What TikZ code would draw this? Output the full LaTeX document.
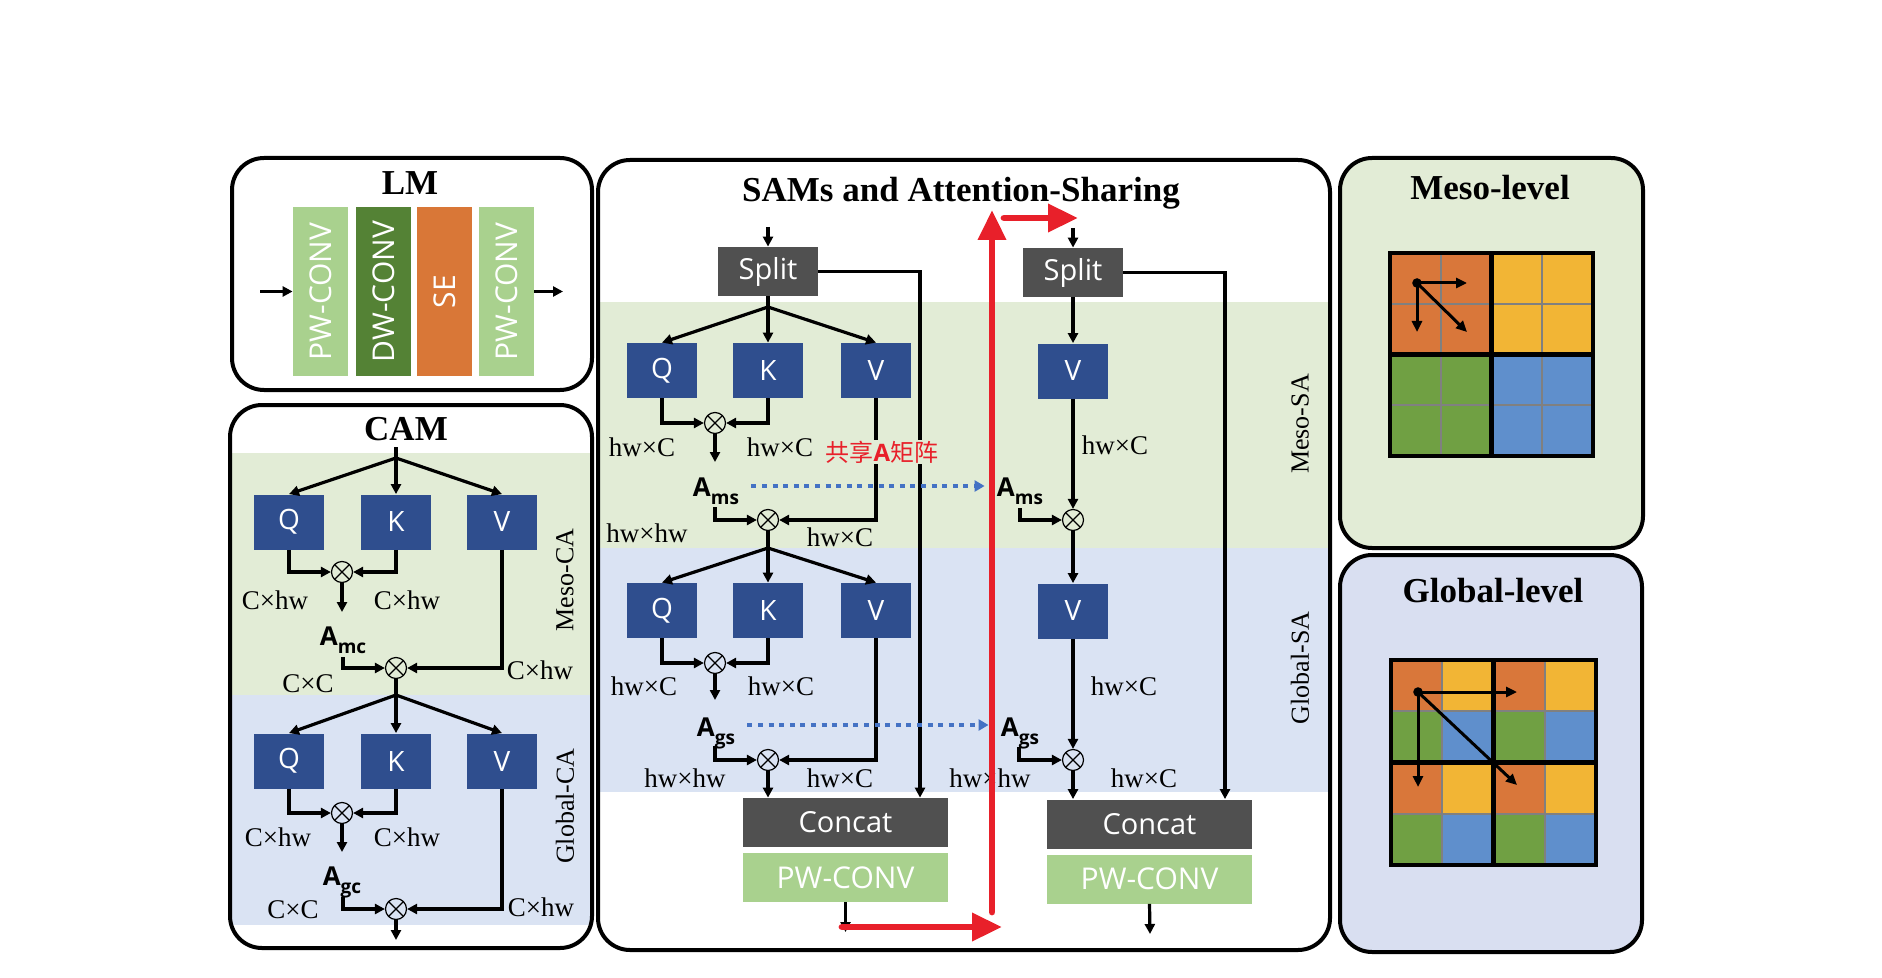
\documentclass[tikz,border=0pt]{standalone}
\usepackage{fontspec}
\setmainfont{Liberation Serif}
\setsansfont{Open Sans}
\newfontfamily\cjk{Noto Sans CJK SC}
\usetikzlibrary{arrows.meta,calc}
\definecolor{qblue}{HTML}{2F4E8E}
\definecolor{dgrey}{HTML}{505050}
\definecolor{lgreen}{HTML}{A9D18E}
\definecolor{dgreen}{HTML}{548235}
\definecolor{seorange}{HTML}{D97737}
\definecolor{bandgreen}{HTML}{E2ECD6}
\definecolor{bandblue}{HTML}{DAE3F3}
\definecolor{glbox}{HTML}{D9DFF1}
\definecolor{gorange}{HTML}{D9773A}
\definecolor{gyellow}{HTML}{F2B535}
\definecolor{ggreen}{HTML}{70A043}
\definecolor{gblue}{HTML}{5F8FCC}
\definecolor{rd}{HTML}{E8202A}
\definecolor{dotblue}{HTML}{4472C4}
\newcommand\amsub[1]{\raisebox{-4pt}{\fontsize{9.5}{10}\selectfont #1}}
\tikzset{
 ln/.style={line width=1.6pt},
 arr/.style={line width=1.6pt, -{Triangle[length=5pt,width=5pt]}},
 blk/.style={rectangle, inner sep=0pt, text=white, font=\sffamily\fontsize{14}{14}\selectfont},
 qkv/.style={blk, fill=qblue, minimum width=35pt, minimum height=27.5pt},
 gbox/.style={blk, fill=dgrey, font=\sffamily\fontsize{14.5}{15}\selectfont},
 splitbox/.style={gbox, minimum width=50pt, minimum height=24.5pt},
 catbox/.style={gbox, minimum width=102.5pt, minimum height=24.5pt},
 pwbox/.style={blk, fill=lgreen, minimum width=102.5pt, minimum height=24.5pt, font=\sffamily\fontsize{15}{15}\selectfont},
 lmb/.style={blk, minimum width=27.5pt, minimum height=84.5pt, font=\sffamily\fontsize{15}{15}\selectfont},
 ox/.style={circle, draw, line width=0.6pt, minimum size=10.5pt, inner sep=0pt,
   path picture={\draw[line width=0.6pt] (path picture bounding box.north west) -- (path picture bounding box.south east) (path picture bounding box.north east) -- (path picture bounding box.south west);}},
 lab/.style={inner sep=0pt, font=\fontsize{13.5}{14}\selectfont},
 side/.style={inner sep=0pt, rotate=90, font=\fontsize{13}{14}\selectfont},
 ttl/.style={inner sep=0pt, font=\bfseries\fontsize{17.5}{18}\selectfont},
 amat/.style={inner sep=0pt, font=\sffamily\bfseries\fontsize{13}{14}\selectfont},
 dotarr/.style={draw=dotblue, line width=2pt, dash pattern=on 2.5pt off 2.8pt, -{Triangle[length=5pt,width=5.5pt]}, shorten <=6pt, shorten >=6pt},
 panel/.style={line width=2pt, rounded corners=16pt},
 redarr/.style={draw=rd, line width=3.4pt, line cap=round, -{Triangle[length=15pt,width=13.5pt]}},
 garr/.style={line width=1.5pt, -{Triangle[length=5.5pt,width=5pt]}},
 thingrid/.style={draw=black!50, line width=1pt},
 thickgrid/.style={draw=black, line width=2.2pt},
}
\begin{document}
\begin{tikzpicture}[x=0.5pt,y=-0.5pt]
\useasboundingbox (0,0) rectangle (1882,978);

% ---------- side panels ----------
\filldraw[panel, fill=bandgreen] (1340,158) rectangle (1643,548);
\filldraw[panel, fill=glbox] (1340,555) rectangle (1642,952);

% ---------- bands ----------
\begin{scope}
\clip[rounded corners=16pt] (230,405) rectangle (592,948);
\fill[bandgreen] (230,453) rectangle (592,695);
\fill[bandblue] (230,695) rectangle (592,925);
\end{scope}
\begin{scope}
\clip[rounded corners=16pt] (598,160) rectangle (1330,950);
\fill[bandgreen] (598,302) rectangle (1330,548);
\fill[bandblue] (598,548) rectangle (1330,792);
\end{scope}
\draw[panel] (232,158) rectangle (592,390);
\draw[panel] (230,405) rectangle (592,948);
\draw[panel] (598,160) rectangle (1330,950);

% ---------- titles ----------
\node[ttl, anchor=base] (lmT) at (410,195) {LM};
\node[ttl, anchor=base] (camT) at (406,440) {CAM};
\node[ttl, anchor=base] (samT) at (961,202) {SAMs and Attention-Sharing};
\node[ttl, anchor=base] (mesoT) at (1490,200) {Meso-level};
\node[ttl, anchor=base] (globT) at (1493,602) {Global-level};

% ---------- LM ----------
\node[lmb, fill=lgreen] (lm1) at (320.5,291.5) {\rotatebox{90}{PW-CONV}};
\node[lmb, fill=dgreen] (lm2) at (383.5,291.5) {\rotatebox{90}{DW-CONV}};
\node[lmb, fill=seorange] (lm3) at (444.5,291.5) {\rotatebox{90}{SE}};
\node[lmb, fill=lgreen] (lm4) at (506.5,291.5) {\rotatebox{90}{PW-CONV}};
\coordinate (lmin) at (260,291.5);
\coordinate (lmout) at (563,291.5);
\draw[arr] (lmin) -- (lm1.west);
\draw[arr] (lm4.east) -- (lmout);

% ---------- CAM ----------
\coordinate (ct1) at (396,447);
\coordinate (cb1) at (396,458);
\node[qkv] (cq1) at (289,522) {Q};
\node[qkv] (ck1) at (396,522) {K};
\node[qkv] (cv1) at (502,522) {V};
\draw[ln] (ct1) -- (cb1);
\draw[arr] (cb1) -- (cq1.north);
\draw[arr] (cb1) -- (ck1.north);
\draw[arr] (cb1) -- (cv1.north);
\node[ox] (ox1) at (342,572) {};
\draw[arr] (cq1.south) |- (ox1);
\draw[arr] (ck1.south) |- (ox1);
\coordinate (ca1) at (342,612);
\draw[arr] (ox1) -- (ca1);
\node[lab] at (275,600) {C×hw};
\node[lab] at (407,600) {C×hw};
\node[amat, anchor=base] (amc) at (343,645) {A\amsub{mc}};
\coordinate (amcl) at (343,657);
\node[ox] (ox2) at (396,668) {};
\draw[arr] (amcl) |- (ox2);
\draw[arr] (cv1.south) |- (ox2);
\node[lab] at (308,684) {C×C};
\node[lab] at (540,670) {C×hw};
\coordinate (cb2) at (396,695);
\draw[ln] (ox2) -- (cb2);
\node[qkv] (cq2) at (289,761) {Q};
\node[qkv] (ck2) at (396,761) {K};
\node[qkv] (cv2) at (502,761) {V};
\draw[arr] (cb2) -- (cq2.north);
\draw[arr] (cb2) -- (ck2.north);
\draw[arr] (cb2) -- (cv2.north);
\node[ox] (ox3) at (342,813) {};
\draw[arr] (cq2.south) |- (ox3);
\draw[arr] (ck2.south) |- (ox3);
\coordinate (ca3) at (342,852);
\draw[arr] (ox3) -- (ca3);
\node[lab] at (278,837) {C×hw};
\node[lab] at (407,837) {C×hw};
\node[amat, anchor=base] (agc) at (342,885) {A\amsub{gc}};
\coordinate (agcl) at (343,897);
\node[ox] (ox4) at (396,909) {};
\draw[arr] (agcl) |- (ox4);
\draw[arr] (cv2.south) |- (ox4);
\node[lab] at (293,910) {C×C};
\node[lab] at (541,907) {C×hw};
\coordinate (cout) at (396,940);
\draw[arr] (ox4) -- (cout);
\node[side] at (565,580) {Meso-CA};
\node[side] at (565,806) {Global-CA};

% ---------- SAM left ----------
\coordinate (si1) at (768,227);
\node[splitbox] (sp1) at (768,271.5) {Split};
\draw[arr] (si1) -- (sp1);
\coordinate (sb1) at (768,307);
\draw[ln] (sp1) -- (sb1);
\node[qkv] (sq1) at (662,370.5) {Q};
\node[qkv] (sk1) at (768,370.5) {K};
\node[qkv] (sv1) at (876,370.5) {V};
\draw[arr] (sb1) -- (sq1.north);
\draw[arr] (sb1) -- (sk1.north);
\draw[arr] (sb1) -- (sv1.north);
\node[ox] (sox1) at (715,423) {};
\draw[arr] (sq1.south) |- (sox1);
\draw[arr] (sk1.south) |- (sox1);
\coordinate (sa1) at (715,462);
\draw[arr] (sox1) -- (sa1);
\node[lab] at (642,447) {hw×C};
\node[lab] at (780,447) {hw×C};
\node[amat, anchor=base] (ams1) at (716,496) {A\amsub{ms}};
\coordinate (ams1l) at (715,507);
\node[ox] (sox2) at (768,520) {};
\draw[arr] (ams1l) |- (sox2);
\draw[arr] (sv1.south) |- (sox2);
\node[lab] at (647,533) {hw×hw};
\node[lab] at (840,537) {hw×C};
\coordinate (sb2) at (768,548);
\draw[ln] (sox2) -- (sb2);
\node[qkv] (sq2) at (662,610.5) {Q};
\node[qkv] (sk2) at (768,610.5) {K};
\node[qkv] (sv2) at (876,610.5) {V};
\draw[arr] (sb2) -- (sq2.north);
\draw[arr] (sb2) -- (sk2.north);
\draw[arr] (sb2) -- (sv2.north);
\node[ox] (sox3) at (715,663) {};
\draw[arr] (sq2.south) |- (sox3);
\draw[arr] (sk2.south) |- (sox3);
\coordinate (sa3) at (715,700);
\draw[arr] (sox3) -- (sa3);
\node[lab] at (644,686) {hw×C};
\node[lab] at (781,686) {hw×C};
\node[amat, anchor=base] (ags1) at (716,736) {A\amsub{gs}};
\coordinate (ags1l) at (715,746);
\node[ox] (sox4) at (768,760) {};
\draw[arr] (ags1l) |- (sox4);
\draw[arr] (sv2.south) |- (sox4);
\node[lab] at (685,778) {hw×hw};
\node[lab] at (840,778) {hw×C};
\node[catbox] (sc1) at (845.5,822.5) {Concat};
\node[pwbox] (sw1) at (845.5,877.5) {PW-CONV};
\draw[arr] (sox4) -- (sox4 |- sc1.north);
\coordinate (sr1) at (920,272);
\draw[arr] (sp1.east) -| (sr1 |- sc1.north);
\coordinate (so1) at (845.5,932);
\draw[arr] (sw1.south) -- (so1);

% ---------- SAM right ----------
\coordinate (si2) at (1073,228);
\node[splitbox] (sp2) at (1073,272.5) {Split};
\draw[arr] (si2) -- (sp2);
\node[qkv] (rv1) at (1073,371) {V};
\draw[arr] (sp2) -- (rv1);
\node[ox] (rox1) at (1073,520) {};
\draw[arr] (rv1) -- (rox1);
\node[lab] at (1115,445) {hw×C};
\node[amat, anchor=base] (ams2) at (1020,496) {A\amsub{ms}};
\coordinate (ams2l) at (1020,508);
\draw[arr] (ams2l) |- (rox1);
\node[qkv] (rv2) at (1073,611) {V};
\draw[arr] (rox1) -- (rv2);
\node[ox] (rox2) at (1073,760) {};
\draw[arr] (rv2) -- (rox2);
\node[lab] at (1124,686) {hw×C};
\node[amat, anchor=base] (ags2) at (1020,736) {A\amsub{gs}};
\coordinate (ags2l) at (1019,747);
\draw[arr] (ags2l) |- (rox2);
\node[lab] at (990,778) {hw×hw};
\node[lab] at (1144,778) {hw×C};
\node[catbox] (sc2) at (1149.5,824) {Concat};
\node[pwbox] (sw2) at (1149.5,879) {PW-CONV};
\draw[arr] (rox2) -- (rox2 |- sc2.north);
\coordinate (sr2) at (1225,272);
\draw[arr] (sp2.east) -| (sr2 |- sc2.north);
\coordinate (so2) at (1150,934);
\draw[arr] (sw2.south) -- (so2);
\node[side] at (1300,424) {Meso-SA};
\node[side] at (1300,668) {Global-SA};

% ---------- sharing ----------
\draw[dotarr] ([yshift=5pt]ams1.base east) -- ([yshift=5pt]ams2.base west);
\draw[dotarr] ([yshift=5.5pt]ags1.base east) -- ([yshift=5.5pt]ags2.base west);
\node[inner sep=0.6pt, fill=bandgreen, font=\cjk\fontsize{12}{12}\selectfont, text=rd] (share) at (882,452)
  {共享{\sffamily\bfseries A}矩阵};

% ---------- red flow ----------
\coordinate (rB0) at (842,927); \coordinate (rB1) at (1002,927);
\coordinate (rV0) at (992,912); \coordinate (rV1) at (992,210);
\coordinate (rT0) at (1004,218); \coordinate (rT1) at (1078,218);
\draw[redarr] (rB0) -- (rB1);
\draw[redarr] (rV0) -- (rV1);
\draw[redarr] (rT0) -- (rT1);

% ---------- Meso grid ----------
\fill[gorange] (1390,253) rectangle (1491.5,354.5);
\fill[gyellow] (1491.5,253) rectangle (1593,354.5);
\fill[ggreen] (1390,354.5) rectangle (1491.5,456);
\fill[gblue] (1491.5,354.5) rectangle (1593,456);
\draw[thingrid] (1440.75,253) -- (1440.75,456) (1542.25,253) -- (1542.25,456)
  (1390,303.75) -- (1593,303.75) (1390,405.25) -- (1593,405.25);
\draw[thickgrid] (1390,253) rectangle (1593,456) (1491.5,253) -- (1491.5,456) (1390,354.5) -- (1593,354.5);
\fill (1417,283) circle[radius=2.4pt];
\draw[garr] (1417,283) -- (1467,283);
\draw[garr] (1417,283) -- (1417,332);
\draw[garr] (1417,283) -- (1467,332);

% ---------- Global grid ----------
\foreach \r in {0,2}{\foreach \c in {0,2}{
 \fill[gorange] ({1391+\c*51.25},{660+\r*51.25}) rectangle ++(51.25,51.25);
 \fill[gyellow] ({1391+(\c+1)*51.25},{660+\r*51.25}) rectangle ++(51.25,51.25);
 \fill[ggreen] ({1391+\c*51.25},{660+(\r+1)*51.25}) rectangle ++(51.25,51.25);
 \fill[gblue] ({1391+(\c+1)*51.25},{660+(\r+1)*51.25}) rectangle ++(51.25,51.25);
}}
\draw[thingrid] (1442.25,660) -- (1442.25,865) (1544.75,660) -- (1544.75,865)
  (1391,711.25) -- (1596,711.25) (1391,813.75) -- (1596,813.75);
\draw[thickgrid] (1391,660) rectangle (1596,865) (1493.5,660) -- (1493.5,867) (1391,762.5) -- (1596,762.5);
\fill (1418,692) circle[radius=2.4pt];
\draw[garr] (1418,692) -- (1517,692);
\draw[garr] (1418,692) -- (1418,787);
\draw[garr] (1418,692) -- (1517,785);
\end{tikzpicture}
\end{document}
